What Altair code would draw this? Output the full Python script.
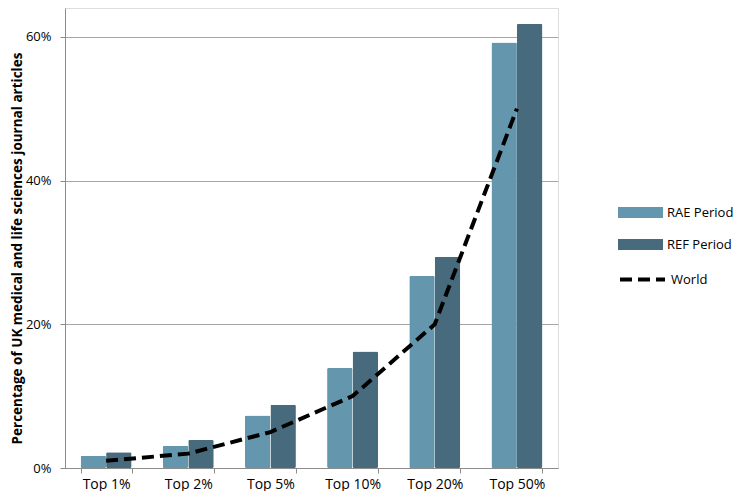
import altair as alt
import pandas as pd

categories = ["Top 1%", "Top 2%", "Top 5%", "Top 10%", "Top 20%", "Top 50%"]
rae = [0.017, 0.031, 0.073, 0.139, 0.267, 0.592]
ref = [0.022, 0.039, 0.088, 0.162, 0.294, 0.618]
world = [0.01, 0.02, 0.05, 0.10, 0.20, 0.50]
series_names = ["RAE Period", "REF Period"]
colors = ["#6497AD", "#476B7D"]

bars = pd.DataFrame(
    [{"cat": c, "series": series_names[0], "value": v} for c, v in zip(categories, rae)]
    + [{"cat": c, "series": series_names[1], "value": v} for c, v in zip(categories, ref)]
)
line = pd.DataFrame({"cat": categories, "value": world, "series": ["World"] * len(categories)})

FONT = "Open Sans"

x = alt.X(
    "cat:N",
    sort=categories,
    title=None,
    scale=alt.Scale(paddingInner=0.38, paddingOuter=0.19),
    axis=alt.Axis(
        tickBand="extent",
        labelAngle=0,
        labelFont=FONT,
        labelFontSize=14,
        labelColor="#000000",
        domainColor="#8c8c8c",
        tickColor="#8c8c8c",
        tickSize=5,
        labelPadding=4,
        grid=False,
    ),
)
y = alt.Y(
    "value:Q",
    scale=alt.Scale(domain=[0, 0.64], nice=False),
    title="Percentage of UK medical and life sciences journal articles",
    axis=alt.Axis(
        values=[0, 0.2, 0.4, 0.6],
        format=".0%",
        grid=True,
        gridColor="#a6a6a6",
        domainColor="#8c8c8c",
        tickColor="#8c8c8c",
        tickSize=5,
        labelFont=FONT,
        labelFontSize=13,
        labelColor="#000000",
        labelPadding=9,
        titleFont=FONT,
        titleFontSize=13.5,
        titleFontWeight="bold",
        titleColor="#000000",
        titleX=-55,
        titleY=240,
        titleBaseline="top",
        titleAlign="center",
    ),
)

bar_layer = alt.Chart(bars).mark_bar(cornerRadius=1.5).encode(
    x=x,
    y=y,
    xOffset=alt.XOffset("series:N", sort=series_names),
    color=alt.Color(
        "series:N",
        scale=alt.Scale(domain=series_names, range=colors),
        legend=alt.Legend(
            title=None,
            orient="none",
            legendX=564,
            legendY=193,
            symbolType="M-2,-0.5H2V0.5H-2Z",
            symbolSize=506,
            symbolStrokeWidth=0,
            symbolOpacity=1,
            labelOffset=15,
            rowPadding=13,
            padding=0,
            labelFont=FONT,
            labelFontSize=13,
            labelColor="#000000",
        ),
    ),
)

line_layer = alt.Chart(line).mark_line(color="black", strokeWidth=4).encode(
    x=x,
    y=y,
    strokeDash=alt.StrokeDash(
        "series:N",
        scale=alt.Scale(domain=["World"], range=[[12, 6]]),
        legend=alt.Legend(
            title=None,
            orient="none",
            legendX=553,
            legendY=247,
            symbolType="stroke",
            symbolSize=2025,
            symbolStrokeWidth=4,
            symbolStrokeColor="black",
            labelOffset=4,
            padding=0,
            labelFont=FONT,
            labelFontSize=13,
            labelColor="#000000",
        ),
    ),
)

chart = (
    alt.layer(bar_layer, line_layer)
    .properties(
        width=493,
        height=460,
        autosize=alt.AutoSizeParams(type="none"),
        padding={"left": 57, "top": 0, "right": 175, "bottom": 23},
    )
    .configure_view(stroke=None)
    .configure(background="white")
)

chart.save("out.html", embed_options={"renderer": "svg", "actions": False})
